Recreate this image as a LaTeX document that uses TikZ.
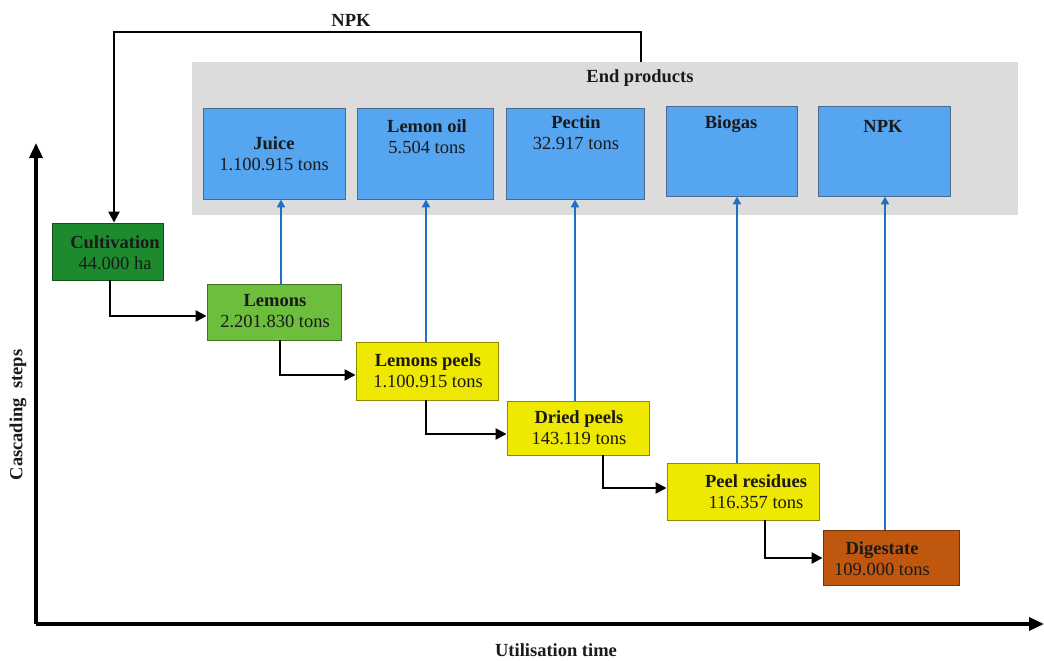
\documentclass[tikz,border=0pt]{standalone}
\usepackage{fontspec}
\setmainfont{Liberation Serif}
\usetikzlibrary{arrows.meta}
\definecolor{panelgrey}{HTML}{DCDCDD}
\definecolor{prodblue}{HTML}{56A5F0}
\definecolor{prodedge}{HTML}{4C6A8A}
\definecolor{flowblue}{HTML}{1F6FC4}
\definecolor{cultgreen}{HTML}{1E8A2E}
\definecolor{lemgreen}{HTML}{6CBE3C}
\definecolor{peelyellow}{HTML}{EFE800}
\definecolor{digbrown}{HTML}{BF570F}
\definecolor{inktext}{HTML}{1A1A1A}
\begin{document}
\begin{tikzpicture}[x=1pt,y=-1pt,
  box/.style={draw=#1!60!black, line width=0.9pt, inner sep=0pt},
  prod/.style={draw=prodedge, fill=prodblue, line width=0.9pt, inner sep=0pt},
  lbl/.style={align=center, inner sep=0pt, text=inktext, font=\fontsize{18.5}{21}\selectfont},
  flow/.style={draw=black, line width=2.4pt, -{Triangle[length=11pt,width=11pt]}},
  up/.style={draw=flowblue, line width=2.4pt, -{Triangle[length=8pt,width=8pt]}},
  axis/.style={draw=black, line width=3.4pt, -{Triangle[length=15pt,width=13pt]}}]
\useasboundingbox (0,0) rectangle (1044,661);

% end-product panel
\node[fill=panelgrey, inner sep=0pt, minimum width=826pt, minimum height=153pt] (panel) at (605,138.5) {};
\node[lbl] (paneltitle) at (640,78) {\textbf{End products}};

% products
\node[prod, minimum width=142pt, minimum height=91pt] (juice) at (274,153.5) {};
\node[prod, minimum width=136pt, minimum height=91pt] (oil) at (425,153.5) {};
\node[prod, minimum width=138pt, minimum height=91pt] (pectin) at (575,153.5) {};
\node[prod, minimum width=131pt, minimum height=90pt] (biogas) at (731.5,151) {};
\node[prod, minimum width=132pt, minimum height=90pt] (npk) at (884,151) {};
\node[lbl] (juicet) at (274,154) {\textbf{Juice}\\1.100.915 tons};
\node[lbl] (oilt) at (427,136.5) {\textbf{Lemon oil}\\5.504 tons};
\node[lbl] (pectint) at (576,132.5) {\textbf{Pectin}\\32.917 tons};
\node[lbl] (biogast) at (731,124) {\textbf{Biogas}};
\node[lbl] (npkt) at (883,126) {\textbf{NPK}};

% cascading steps
\node[box=cultgreen, fill=cultgreen, minimum width=111pt, minimum height=57pt] (cult) at (107.5,251.5) {};
\node[box=lemgreen, fill=lemgreen, minimum width=134pt, minimum height=56pt] (lemons) at (274,312) {};
\node[box=peelyellow, fill=peelyellow, minimum width=142pt, minimum height=58pt] (peels) at (427,371) {};
\node[box=peelyellow, fill=peelyellow, minimum width=142pt, minimum height=54pt] (dried) at (578,428) {};
\node[box=peelyellow, fill=peelyellow, minimum width=152pt, minimum height=57pt] (resid) at (743,491.5) {};
\node[box=digbrown, fill=digbrown, minimum width=136pt, minimum height=55pt] (dig) at (891,557.5) {};
\node[lbl] (cultt) at (115,252.5) {\textbf{Cultivation}\\44.000 ha};
\node[lbl] (lemonst) at (275,311) {\textbf{Lemons}\\2.201.830 tons};
\node[lbl] (peelst) at (428,370.5) {\textbf{Lemons peels}\\1.100.915 tons};
\node[lbl] (driedt) at (579,428) {\textbf{Dried peels}\\143.119 tons};
\node[lbl] (residt) at (756,492) {\textbf{Peel residues}\\116.357 tons};
\node[lbl] (digt) at (882,558.5) {\textbf{Digestate}\\109.000 tons};

% step-to-step flows
\draw[flow] (cult.south -| 110,0) |- (lemons.west |- 0,316);
\draw[flow] (lemons.south -| 280,0) |- (peels.west |- 0,375);
\draw[flow] (peels.south -| 426,0) |- (dried.west |- 0,434);
\draw[flow] (dried.south -| 603,0) |- (resid.west |- 0,488);
\draw[flow] (resid.south -| 765,0) |- (dig.west |- 0,558);

% flows to end products
\draw[up] (lemons.north -| 281,0) -- (juice.south -| 281,0);
\draw[up] (peels.north -| 426,0) -- (oil.south -| 426,0);
\draw[up] (dried.north -| 575,0) -- (pectin.south -| 575,0);
\draw[up] (resid.north -| 737,0) -- (biogas.south -| 737,0);
\draw[up] (dig.north -| 885,0) -- (npk.south -| 885,0);

% NPK return loop
\coordinate (loopR) at (641,32);
\coordinate (loopL) at (114,32);
\draw[flow] (panel.north -| 641,0) -- (loopR) -- (loopL) -- (cult.north -| 114,0);
\node[lbl] (npkloop) at (351,20) {\textbf{NPK}};

% axes
\coordinate (origin) at (36,624);
\coordinate (ytop) at (36,143);
\coordinate (xend) at (1044,624);
\draw[axis] (origin) -- (ytop);
\draw[axis] (origin) -- (xend);
\node[lbl, rotate=90] (ylab) at (18,415) {\textbf{Cascading\ \ steps}};
\node[lbl] (xlab) at (556,650) {\textbf{Utilisation time}};
\end{tikzpicture}
\end{document}
